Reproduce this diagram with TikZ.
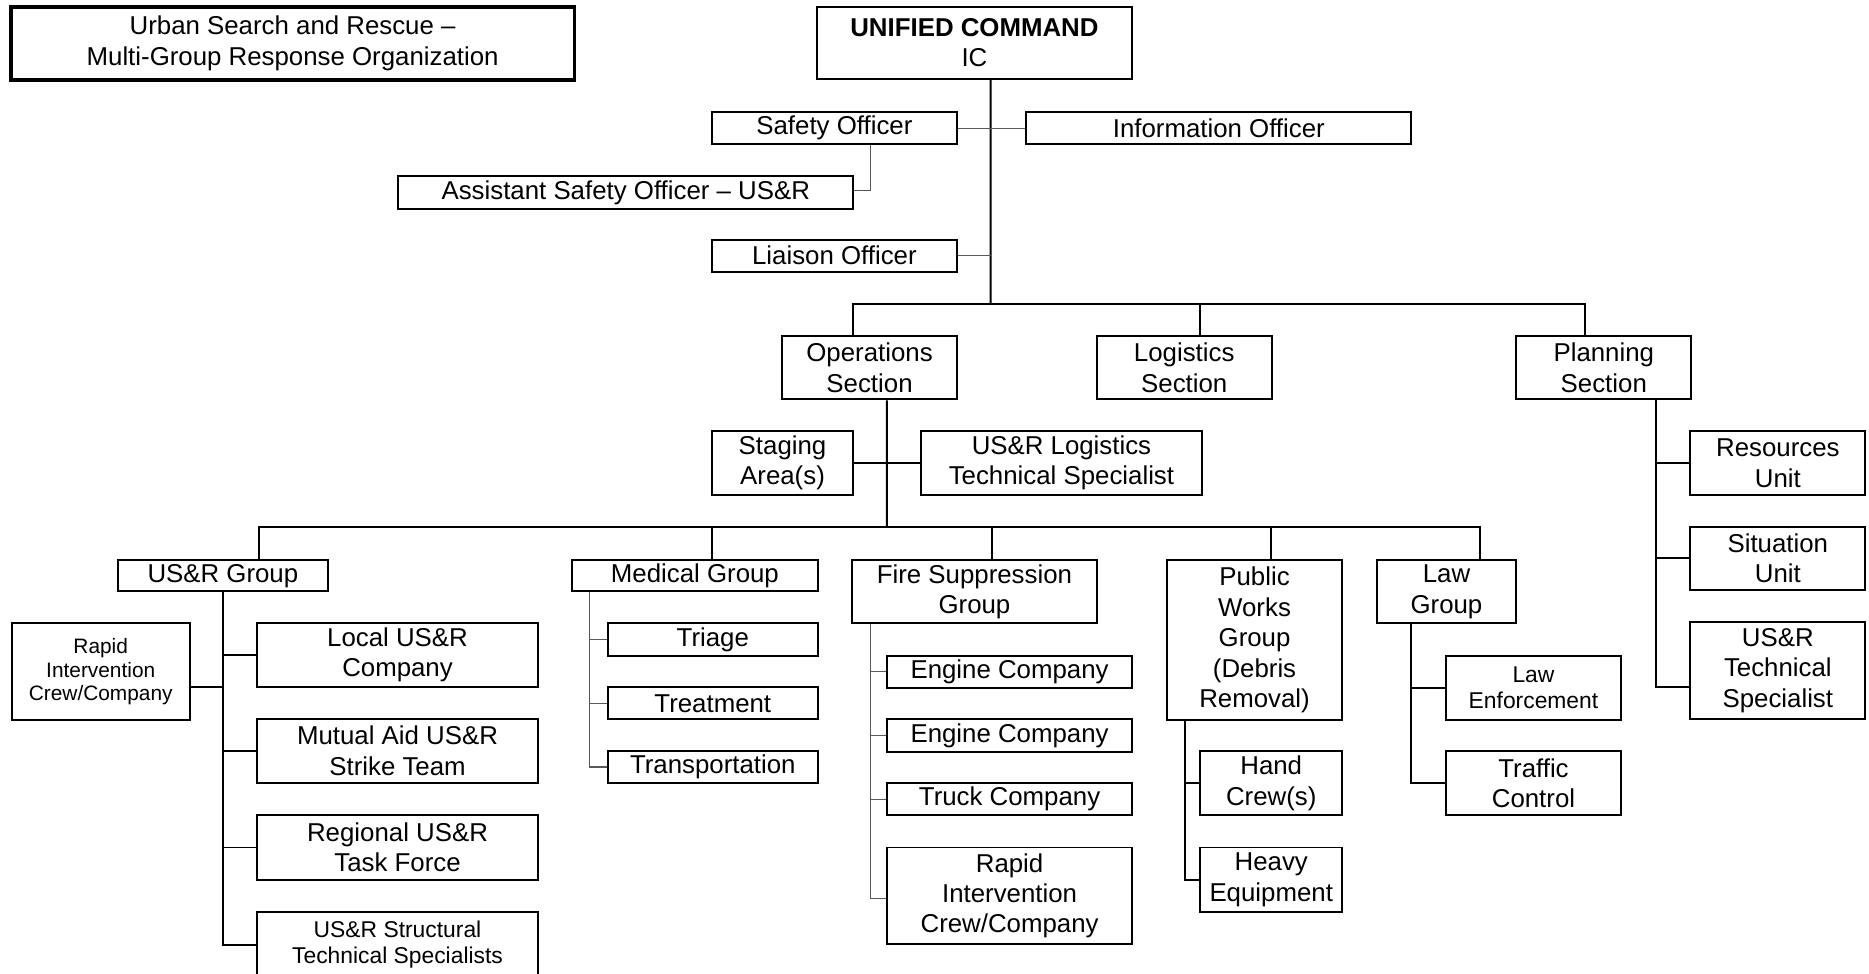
\documentclass[tikz,border=0pt]{standalone}
\usepackage{fontspec}
\setmainfont{Liberation Sans}
\usetikzlibrary{calc}
\usetikzlibrary{positioning}
\tikzset{x=0.6pt, y=-0.6pt, % one unit per pixel of the chart, y grows downwards
  every node/.style={align=center},
  unit/.style={           % Sets the properties for each box
    draw, line width=1pt, inner sep=0pt,
    font=\fontsize{13}{15.3}\selectfont},
  smallunit/.style={unit, font=\fontsize{10.5}{12}\selectfont},
  midunit/.style={unit, font=\fontsize{11.5}{13.5}\selectfont},
  titlebox/.style={unit, line width=1.8pt},
  link/.style={draw, line width=1pt},       % main lines of command
  thinlink/.style={draw, line width=0.55pt, black!65}}

\begin{document}
\begin{tikzpicture}
  \useasboundingbox (0,0) rectangle (1568,817);

  % title and command staff
  \node [titlebox, minimum width=283.8pt, minimum height=36.6pt] (title) at (245.5,36.5)
    {Urban Search and Rescue –\\Multi-Group Response Organization};
  \node [unit, minimum width=159pt, minimum height=36pt] (uc) at (817.5,36)
    {\textbf{UNIFIED COMMAND}\\IC};
  \node [unit, minimum width=123.6pt, minimum height=16.2pt] (safety) at (700,107.5) {Safety Officer};
  \node [unit, minimum width=193.8pt, minimum height=16.2pt] (info) at (1022.5,107.5) {Information Officer};
  \node [unit, minimum width=229.2pt, minimum height=16.2pt] (asst) at (525,161.5) {Assistant Safety Officer – US\&R};
  \node [unit, minimum width=123.6pt, minimum height=16.2pt] (liaison) at (700,214.5) {Liaison Officer};

  % sections
  \node [unit, minimum width=88.2pt, minimum height=31.8pt] (ops) at (729.5,308.5) {Operations\\Section};
  \node [unit, minimum width=88.2pt, minimum height=31.8pt] (logs) at (993.5,308.5) {Logistics\\Section};
  \node [unit, minimum width=88.2pt, minimum height=31.8pt] (plan) at (1345.5,308.5) {Planning\\Section};
  \node [unit, minimum width=71.4pt, minimum height=31.8pt] (staging) at (656.5,388.5) {Staging\\Area(s)};
  \node [unit, minimum width=141pt, minimum height=31.8pt] (usrlog) at (890.5,388.5) {US\&R Logistics\\Technical Specialist};

  % planning units
  \node [unit, minimum width=88.2pt, minimum height=31.8pt] (res) at (1491.5,388.5) {Resources\\Unit};
  \node [unit, minimum width=88.2pt, minimum height=31.8pt] (sit) at (1491.5,468.5) {Situation\\Unit};
  \node [unit, minimum width=88.2pt, minimum height=48.6pt] (usrtech) at (1491.5,562.5) {US\&R\\Technical\\Specialist};

  % groups
  \node [unit, minimum width=105.6pt, minimum height=15.6pt] (usrgrp) at (187,483) {US\&R Group};
  \node [unit, minimum width=123.6pt, minimum height=15.6pt] (med) at (583,483) {Medical Group};
  \node [unit, minimum width=123pt, minimum height=31.8pt] (fire) at (817.5,496.5) {Fire Suppression\\Group};
  \node [unit, minimum width=88.2pt, minimum height=80.4pt] (pw) at (1052.5,537) {Public\\Works\\Group\\(Debris\\Removal)};
  \node [unit, minimum width=70.2pt, minimum height=31.8pt] (law) at (1213.5,496.5) {Law\\Group};

  % US&R group resources
  \node [smallunit, minimum width=89.4pt, minimum height=48.6pt] (rapidl) at (84.5,563.5) {Rapid\\Intervention\\Crew/Company};
  \node [unit, minimum width=141pt, minimum height=31.8pt] (local) at (333.5,549.5) {Local US\&R\\Company};
  \node [unit, minimum width=141pt, minimum height=32.4pt] (mutual) at (333.5,630) {Mutual Aid US\&R\\Strike Team};
  \node [unit, minimum width=141pt, minimum height=32.4pt] (regional) at (333.5,711) {Regional US\&R\\Task Force};
  \node [midunit, minimum width=141pt, minimum height=33pt] (struct) at (333.5,792.5) {US\&R Structural\\Technical Specialists};

  % medical group resources
  \node [unit, minimum width=105.6pt, minimum height=16.2pt] (triage) at (598,536.5) {Triage};
  \node [unit, minimum width=105.6pt, minimum height=16.2pt] (treat) at (598,590) {Treatment};
  \node [unit, minimum width=105.6pt, minimum height=16.2pt] (trans) at (598,643.5) {Transportation};

  % fire suppression resources
  \node [unit, minimum width=123.6pt, minimum height=16.2pt] (engA) at (847,563.5) {Engine Company};
  \node [unit, minimum width=123.6pt, minimum height=16.2pt] (engB) at (847,617) {Engine Company};
  \node [unit, minimum width=123.6pt, minimum height=16.2pt] (truck) at (847,670.5) {Truck Company};
  \node [unit, minimum width=123.6pt, minimum height=48.6pt] (rapidf) at (847,751.5) {Rapid\\Intervention\\Crew/Company};

  % public works and law resources
  \node [unit, minimum width=71.4pt, minimum height=32.4pt] (hand) at (1066.5,657) {Hand\\Crew(s)};
  \node [unit, minimum width=71.4pt, minimum height=32.4pt] (heavy) at (1066.5,738) {Heavy\\Equipment};
  \node [midunit, minimum width=88.2pt, minimum height=32.4pt] (lawenf) at (1286.5,577) {Law\\Enforcement};
  \node [unit, minimum width=88.2pt, minimum height=32.4pt] (traffic) at (1286.5,657) {Traffic\\Control};

  % lines from command
  \coordinate (icbus) at (831,255);
  \draw [link] ([xshift=8.1pt]uc.south) -- (icbus);
  \draw [thinlink] (safety.east) -- (info.west);
  \draw [thinlink] ([xshift=18pt]safety.south) |- ([yshift=1pt]asst.east);
  \draw [thinlink] (liaison.east) -- (liaison.east -| icbus);
  \draw [link] ([xshift=-8.1pt]ops.north) |- (icbus) -| ([xshift=-9.3pt]plan.north);
  \draw [link] ([xshift=8.1pt]logs.north) -- ([xshift=8.1pt]logs.north |- icbus);

  % lines from operations
  \coordinate (grpbus) at (744,442);
  \draw [link] ([xshift=8.7pt]ops.south) -- (grpbus);
  \draw [link] (staging.east) -- (usrlog.west);
  \draw [link] ([xshift=18pt]usrgrp.north) |- (grpbus) -| ([xshift=17.1pt]law.north);
  \draw [link] ([xshift=8.4pt]med.north) -- ([xshift=8.4pt]med.north |- grpbus);
  \draw [link] ([xshift=8.7pt]fire.north) -- ([xshift=8.7pt]fire.north |- grpbus);
  \draw [link] ([xshift=8.1pt]pw.north) -- ([xshift=8.1pt]pw.north |- grpbus);

  % US&R group
  \draw [link] (usrgrp.south) |- (struct.west);
  \draw [link] (local.west) -- (local.west -| usrgrp.south);
  \draw [link] (mutual.west) -- (mutual.west -| usrgrp.south);
  \draw [link] (regional.west) -- (regional.west -| usrgrp.south);
  \draw [link] ([yshift=-7.5pt]rapidl.east) -- ([yshift=-7.5pt]rapidl.east -| usrgrp.south);

  % medical group
  \coordinate (medtrunk) at ([xshift=-53.1pt]med.south);
  \draw [thinlink] (medtrunk) |- (trans.west);
  \draw [thinlink] (triage.west) -- (triage.west -| medtrunk);
  \draw [thinlink] (treat.west) -- (treat.west -| medtrunk);

  % fire suppression group
  \coordinate (firetrunk) at ([xshift=-52.2pt]fire.south);
  \draw [thinlink] (firetrunk) |- ([yshift=-1.5pt]rapidf.west);
  \draw [thinlink] (engA.west) -- (engA.west -| firetrunk);
  \draw [thinlink] (engB.west) -- (engB.west -| firetrunk);
  \draw [thinlink] (truck.west) -- (truck.west -| firetrunk);

  % public works and law groups
  \coordinate (pwtrunk) at ([xshift=-35.1pt]pw.south);
  \draw [link] (pwtrunk) |- (heavy.west);
  \draw [link] (hand.west) -- (hand.west -| pwtrunk);
  \coordinate (lawtrunk) at ([xshift=-18pt]law.south);
  \draw [link] (lawtrunk) |- (traffic.west);
  \draw [link] (lawenf.west) -- (lawenf.west -| lawtrunk);

  % planning section
  \coordinate (plantrunk) at ([xshift=26.1pt]plan.south);
  \draw [link] (plantrunk) |- ([yshift=-8.4pt]usrtech.west);
  \draw [link] (res.west) -- (res.west -| plantrunk);
  \draw [link] (sit.west) -- (sit.west -| plantrunk);
\end{tikzpicture}
\end{document}
